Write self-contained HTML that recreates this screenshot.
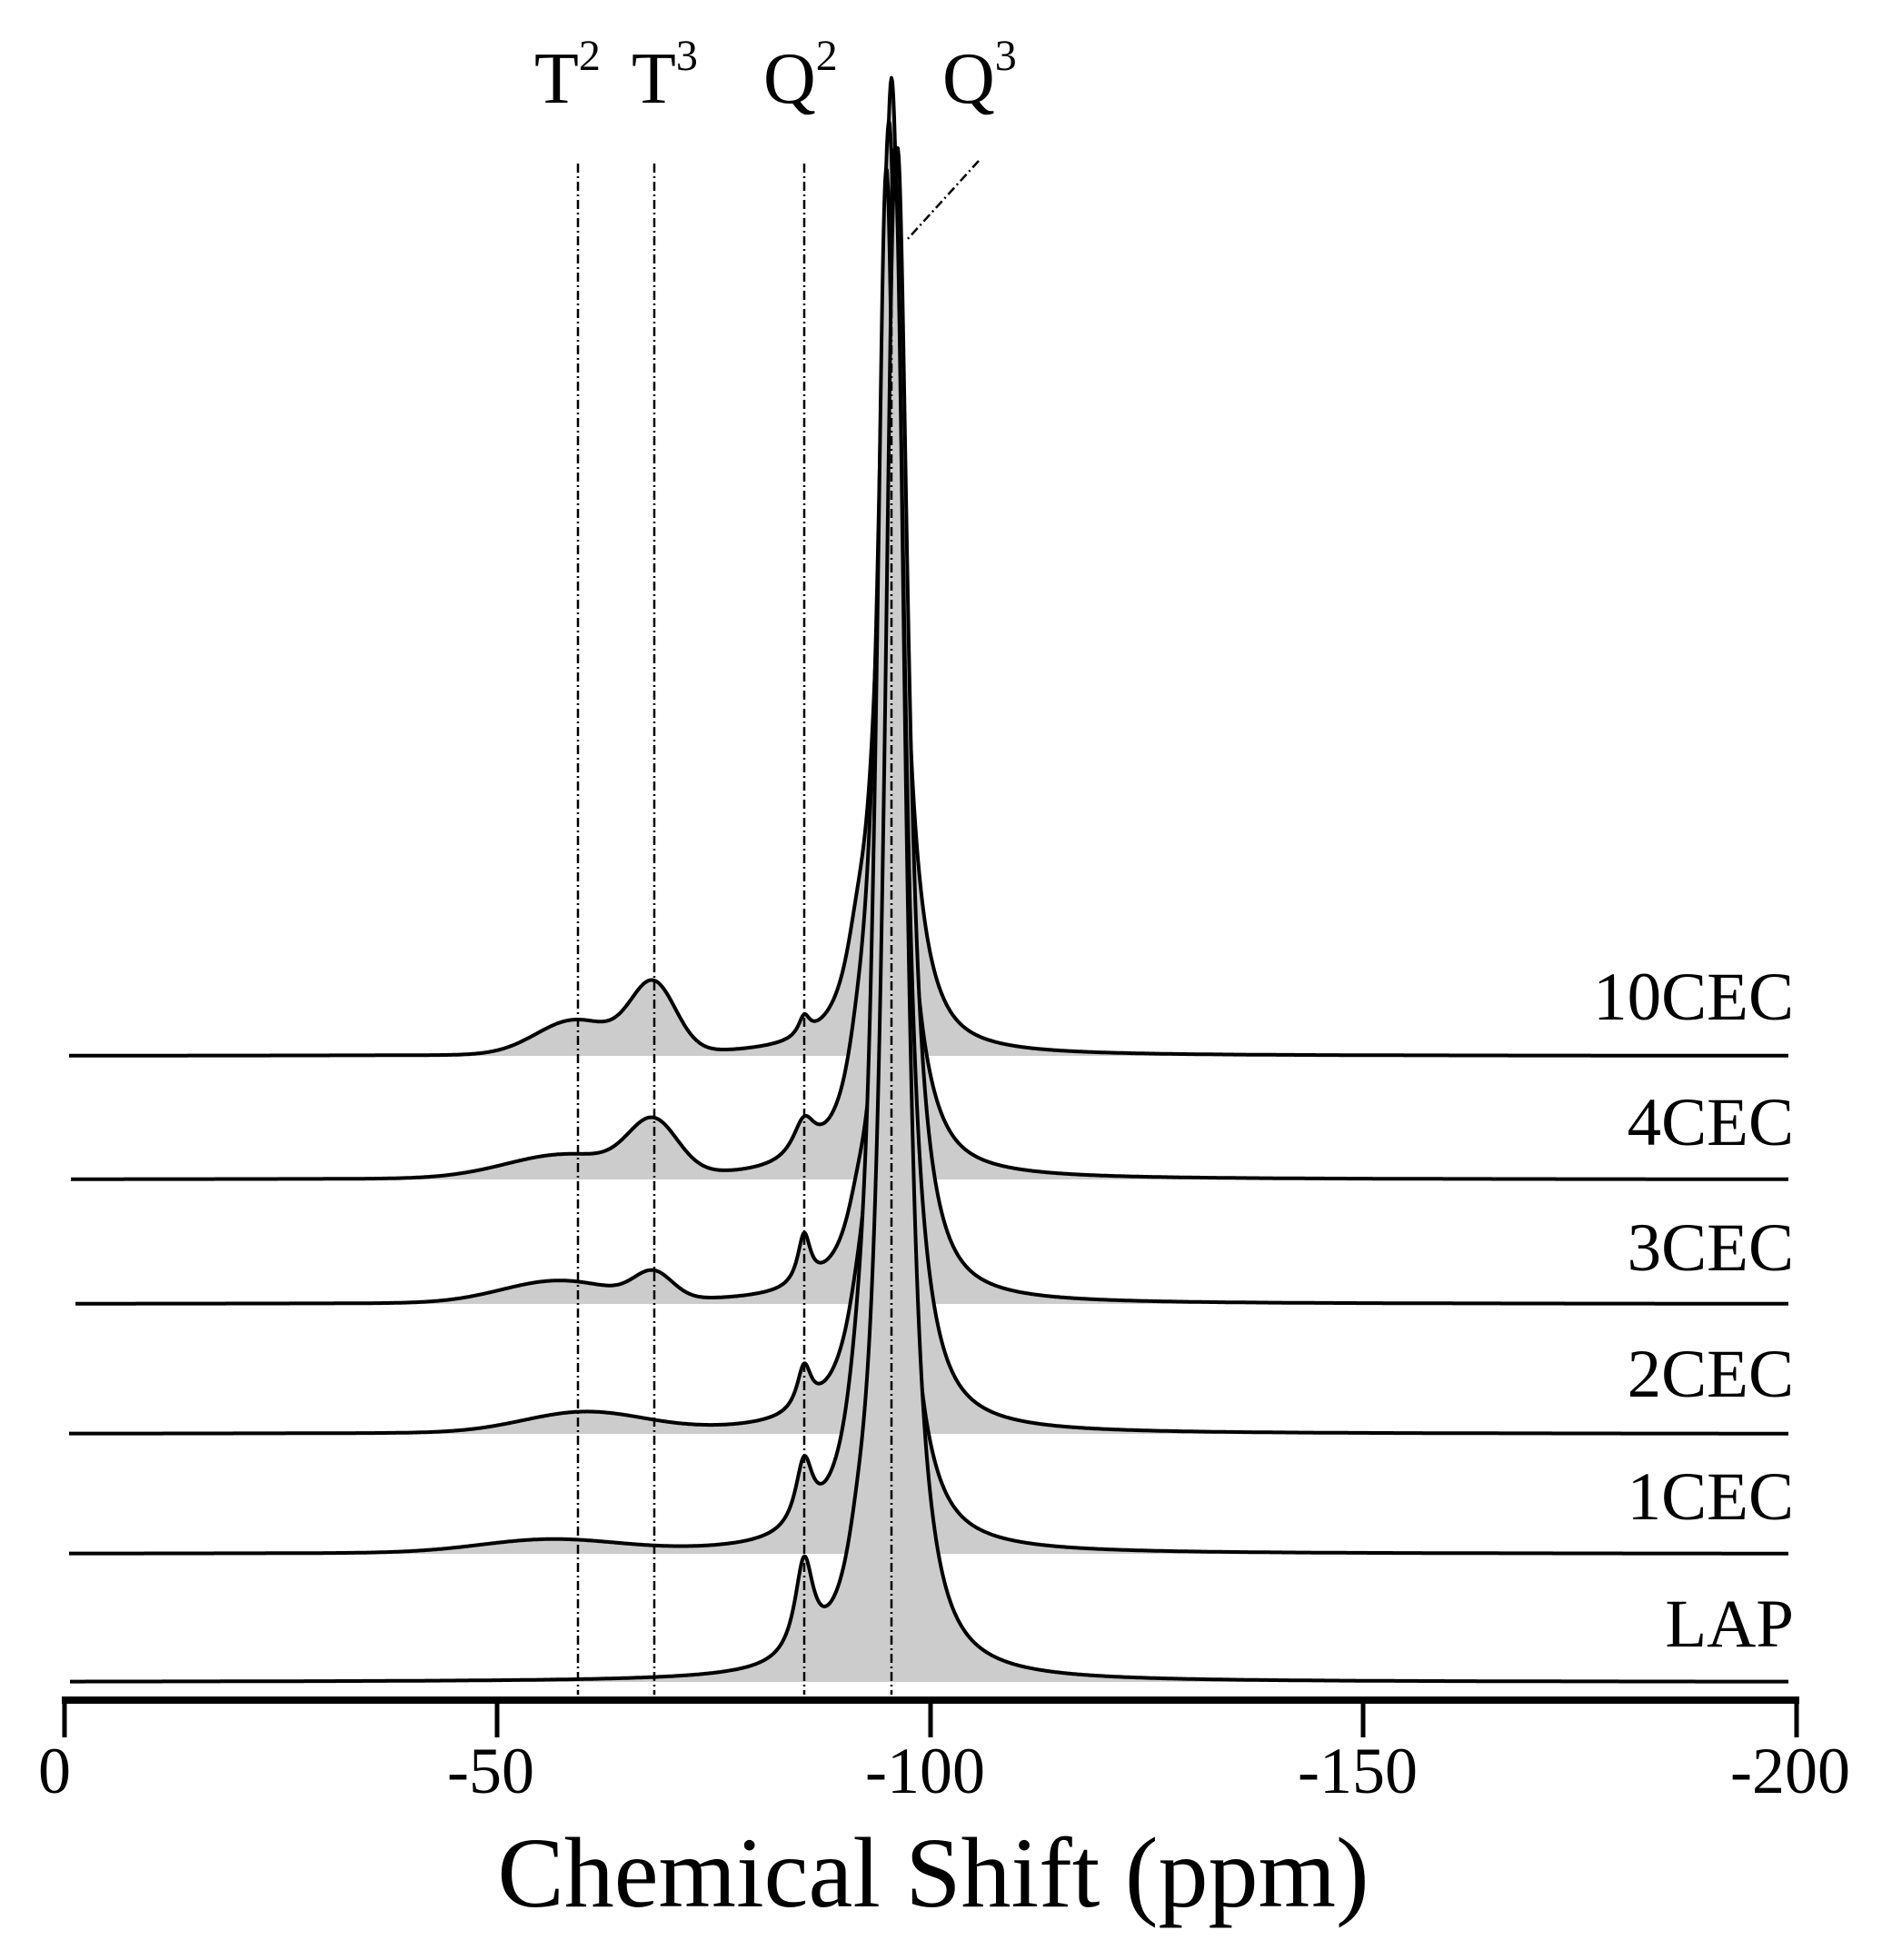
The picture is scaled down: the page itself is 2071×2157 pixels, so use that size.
<!DOCTYPE html>
<html><head><meta charset="utf-8"><style>
html,body{margin:0;padding:0;background:#fff;}
svg{display:block;}
text{font-family:"Liberation Serif",serif;fill:#000;}
</style></head><body>
<svg id="s" width="2071" height="2157" viewBox="0 0 2071 2157" xmlns="http://www.w3.org/2000/svg">
<g id="spec"></g>
<g stroke="#000" stroke-width="2.5" stroke-dasharray="10,4,2,4" fill="none">
<line x1="636" y1="180" x2="636" y2="1865"/>
<line x1="720" y1="180" x2="720" y2="1865"/>
<line x1="885" y1="180" x2="885" y2="1865"/>
<line x1="981" y1="260" x2="981" y2="1865"/>
<line x1="1077" y1="177" x2="997" y2="265"/>
</g>
<g font-size="80">
<text x="588" y="113">T<tspan font-size="48" dy="-36">2</tspan></text>
<text x="695" y="113">T<tspan font-size="48" dy="-36">3</tspan></text>
<text x="840" y="113">Q<tspan font-size="48" dy="-36">2</tspan></text>
<text x="1037" y="113">Q<tspan font-size="48" dy="-36">3</tspan></text>
</g>
<g font-size="75" text-anchor="end">
<text x="1974" y="1122">10CEC</text>
<text x="1974" y="1260">4CEC</text>
<text x="1974" y="1398">3CEC</text>
<text x="1974" y="1537">2CEC</text>
<text x="1974" y="1672">1CEC</text>
<text x="1974" y="1812">LAP</text>
</g>
<rect x="68" y="1867" width="1912" height="8" fill="#000"/>
<g stroke="#000" stroke-width="5">
<line x1="71" y1="1870" x2="71" y2="1912"/>
<line x1="547" y1="1870" x2="547" y2="1912"/>
<line x1="1024" y1="1870" x2="1024" y2="1912"/>
<line x1="1500" y1="1870" x2="1500" y2="1912"/>
<line x1="1977" y1="1870" x2="1977" y2="1912"/>
</g>
<g font-size="72" text-anchor="middle">
<text x="60" y="1973">0</text>
<text x="540" y="1973">-50</text>
<text x="1018" y="1973">-100</text>
<text x="1494" y="1973">-150</text>
<text x="1970" y="1973">-200</text>
</g>
<text x="1027" y="2098" font-size="110" text-anchor="middle">Chemical Shift (ppm)</text>
</svg>
<script>
function L(p,c,h,g){var d=p-c;return h*g*g/(d*d+g*g);}
function G(p,c,h,s){var d=p-c;return h*Math.exp(-d*d/(2*s*s));}
var specs=[
 {b:1162,x0:76,pk:[['G',-59,38,4.5],['G',-68,75,2.6],['L',-85.4,22,0.8],['L',-91.5,45,1.6],['L',-95.5,1030,1.45],['G',-95.5,40,3]]},
 {b:1298,x0:78,pk:[['G',-58,26,7],['G',-68,55,2.8],['L',-85.4,42,1.6],['L',-91.5,30,1.5],['L',-95.2,1120,1.5],['G',-95.6,40,3]]},
 {b:1435,x0:83,pk:[['G',-57,24,6.5],['G',-68,28,2.2],['L',-85.4,55,0.9],['L',-91.5,25,1.5],['L',-96.2,1230,1.45],['G',-95.8,40,3]]},
 {b:1578,x0:76,pk:[['G',-60,22,7],['L',-85.4,48,1.0],['L',-91.5,25,1.5],['L',-95.8,1370,1.5],['G',-95.4,40,3]]},
 {b:1710,x0:76,pk:[['G',-56,14,8],['L',-85.4,72,1.2],['L',-91.5,28,1.5],['L',-94.9,1480,1.45],['G',-95.0,40,3]]},
 {b:1851,x0:77,pk:[['L',-85.4,104,1.3],['L',-91.5,28,1.5],['L',-95.9,1620,1.5],['G',-95.2,40,3]]}
];
var g=document.getElementById('spec'),html='';
specs.forEach(function(s){
 var pts=[];
 for(var x=s.x0;x<=1968;x+=1){
  var p=(71-x)/9.53,v=0;
  s.pk.forEach(function(k){v+=k[0]=='L'?L(p,k[1],k[2],k[3]):G(p,k[1],k[2],k[3]);});
  pts.push(x+','+(s.b-v).toFixed(1));
 }
 var line='M'+pts.join(' L');
 html+='<path d="'+line+' L1968,'+s.b+' L'+s.x0+','+s.b+' Z" fill="#cccccc" stroke="none"/>';
 html+='<path d="'+line+'" fill="none" stroke="#000" stroke-width="4" stroke-linejoin="round"/>';
});
g.innerHTML=html;
</script>
</body></html>
